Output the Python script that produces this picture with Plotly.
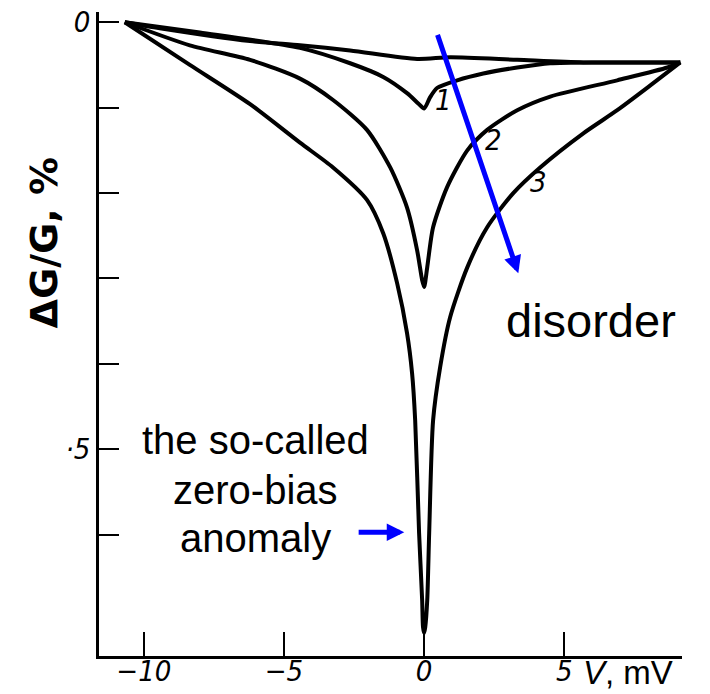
import plotly.graph_objects as go

# Bias voltage V (mV) and relative conductance change dG/G (%) for each curve
v_top = [-10.68, -9.43, -6.21, -4.43, -2.64, -0.25, 0.93, 3.32, 5.68, 9.14]
g_top = [0.0, -0.07, -0.22, -0.27, -0.33, -0.43, -0.41, -0.44, -0.47, -0.47]

v_1 = [-10.68, -8.0, -4.43, -2.64, -1.46, -0.61, -0.21, 0.0, 0.21, 0.46, 1.18, 2.11, 3.32, 4.5, 6.29, 9.14]
g_1 = [0.0, -0.12, -0.30, -0.48, -0.64, -0.83, -0.95, -1.01, -0.88, -0.77, -0.68, -0.60, -0.53, -0.48, -0.47, -0.47]

v_2 = [-10.68, -8.36, -6.21, -4.43, -3.25, -2.04, -1.21, -0.61, -0.25, -0.07, 0.0,
       0.11, 0.32, 0.82, 1.54, 2.25, 3.32, 4.5, 6.89, 8.68, 9.14]
g_2 = [0.0, -0.27, -0.44, -0.66, -0.91, -1.26, -1.70, -2.17, -2.67, -3.02, -3.10,
       -2.87, -2.40, -1.93, -1.50, -1.26, -1.03, -0.87, -0.68, -0.53, -0.47]

v_3 = [-10.68, -8.36, -6.21, -4.43, -3.25, -2.04, -1.46, -0.96, -0.61, -0.43, -0.32, -0.18, -0.07, -0.04, 0.0,
       0.04, 0.11, 0.18, 0.32, 0.57, 0.93, 1.54, 2.25, 3.18, 4.14, 5.68, 6.89, 8.07, 9.14]
g_3 = [0.0, -0.50, -0.96, -1.41, -1.70, -2.08, -2.47, -3.06, -3.64, -4.11, -4.66, -5.98, -6.77, -7.08, -7.15,
       -7.08, -6.77, -5.98, -4.66, -4.04, -3.45, -2.87, -2.40, -2.00, -1.70, -1.30, -1.03, -0.74, -0.47]

x_tickvals = [-10, -5, 0, 5]
x_ticktext = ["\u221210", "\u22125", "0", "5"]
y_tickvals = [0, -1, -2, -3, -4, -5, -6]
y_ticktext = ["0", "", "", "", "", "\u00b75", ""]

# curve numbers: (label, V, dG/G)
curve_labels = [("1", 0.68, -0.91), ("2", 2.46, -1.38), ("3", 4.07, -1.87)]

scan_font = dict(family="Liberation Sans Narrow, DejaVu Sans Condensed, Liberation Sans",
                 size=29, color="black", style="italic")
text_font = "Liberation Sans, Arial, sans-serif"

fig = go.Figure()
for vx, gy in [(v_top, g_top), (v_1, g_1), (v_2, g_2), (v_3, g_3)]:
    fig.add_trace(go.Scatter(
        x=vx, y=gy, mode="lines",
        line=dict(color="black", width=4, shape="spline", smoothing=0.7),
        showlegend=False, hoverinfo="skip",
    ))

annotations = []
for txt, vx, gy in curve_labels:
    annotations.append(dict(x=vx, y=gy, xref="x", yref="y", text=txt, showarrow=False,
                            font=scan_font, xanchor="center", yanchor="middle"))

# axis unit label
annotations.append(dict(x=0.908, y=-0.026, xref="paper", yref="paper", text="<i>V</i>, mV", showarrow=False,
                        font=dict(family=text_font, size=33, color="black"),
                        xanchor="center", yanchor="middle"))

# vertical axis title
annotations.append(dict(x=-0.094, y=0.641, xref="paper", yref="paper", text="<b>\u0394G/G, %</b>",
                        textangle=-90, showarrow=False,
                        font=dict(family="DejaVu Sans, sans-serif", size=38, color="black"),
                        xanchor="center", yanchor="middle"))

# "disorder" arrow and caption
annotations.append(dict(x=3.36, y=-2.94, ax=0.46, ay=-0.13, xref="x", yref="y", axref="x", ayref="y",
                        text="", showarrow=True, arrowhead=2, arrowsize=0.7, arrowwidth=5,
                        arrowcolor="#0000ff", standoff=0))
annotations.append(dict(x=5.96, y=-3.49, xref="x", yref="y", text="disorder", showarrow=False,
                        font=dict(family=text_font, size=47, color="black"),
                        xanchor="center", yanchor="middle"))

# zero-bias anomaly caption and arrow
for line_txt, gy in [("the so-called", -4.89), ("zero-bias", -5.48), ("anomaly", -6.04)]:
    annotations.append(dict(x=-6.0, y=gy, xref="x", yref="y", text=line_txt, showarrow=False,
                            font=dict(family=text_font, size=40, color="black"),
                            xanchor="center", yanchor="middle"))
annotations.append(dict(x=-0.71, y=-5.97, ax=-2.39, ay=-5.97, xref="x", yref="y", axref="x", ayref="y",
                        text="", showarrow=True, arrowhead=2, arrowsize=0.7, arrowwidth=5,
                        arrowcolor="#0000ff", standoff=0))

fig.update_layout(
    width=710, height=694,
    margin=dict(l=99, r=28, t=12, b=38),
    paper_bgcolor="white", plot_bgcolor="white",
    annotations=annotations,
    xaxis=dict(range=[-11.6, 9.2], showline=True, linecolor="black", linewidth=2.5,
               ticks="inside", ticklen=24, tickwidth=2, tickcolor="black",
               tickvals=x_tickvals, ticktext=x_ticktext, tickfont=scan_font,
               ticklabelstandoff=-13,
               showgrid=False, zeroline=False, fixedrange=True, automargin=False),
    yaxis=dict(range=[-7.42, 0.12], showline=True, linecolor="black", linewidth=2.5,
               ticks="inside", ticklen=20, tickwidth=2, tickcolor="black",
               tickvals=y_tickvals, ticktext=y_ticktext, tickfont=scan_font,
               showgrid=False, zeroline=False, fixedrange=True, automargin=False),
)

fig.write_html("out.html")
